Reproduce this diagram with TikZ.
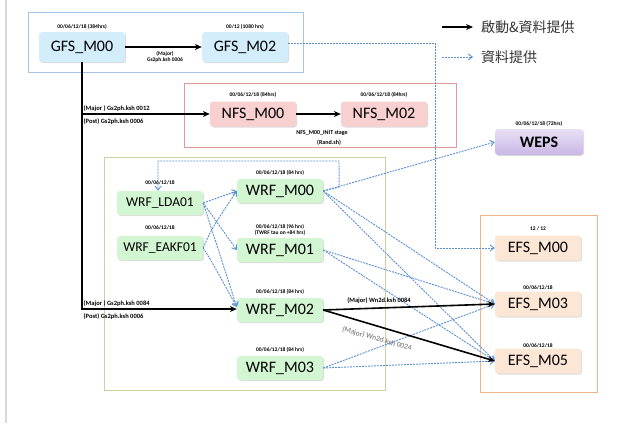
\documentclass[tikz,border=0pt]{standalone}
\usepackage{fontspec}
\setmainfont{Carlito}
\newfontfamily\cjk{Noto Sans CJK TC}
\usetikzlibrary{arrows.meta,shadows,positioning}

\definecolor{gfsfill}{HTML}{D3EDFB}
\definecolor{gfsline}{HTML}{A6C4E6}
\definecolor{nfsfill}{HTML}{F9D0D0}
\definecolor{nfsline}{HTML}{DC9A98}
\definecolor{wrffill}{HTML}{D2F6D2}
\definecolor{wrfline}{HTML}{C4D6A0}
\definecolor{efsfill}{HTML}{FCE6D6}
\definecolor{efsline}{HTML}{F2B68C}
\definecolor{wepsfillA}{HTML}{E8E0F5}
\definecolor{wepsfillB}{HTML}{C9B7E6}
\definecolor{feedblue}{HTML}{5B8FD2}

\begin{document}
\begin{tikzpicture}[x=1pt,y=-1pt,
  model/.style={rounded corners=3pt, minimum width=86pt, minimum height=25pt,
    inner sep=0pt, font=\fontsize{16}{16}\selectfont,
    drop shadow={shadow xshift=1pt, shadow yshift=-1pt, fill=black!30, opacity=0.45}},
  gfs/.style={model, fill=gfsfill, minimum height=30pt},
  nfs/.style={model, fill=nfsfill},
  wrf/.style={model, fill=wrffill, minimum height=24pt},
  wrfnarrow/.style={wrf, font=\fontsize{13.5}{14}\selectfont},
  efs/.style={model, fill=efsfill},
  weps/.style={model, top color=wepsfillA, bottom color=wepsfillB, minimum width=88pt,
    minimum height=26pt, font=\fontsize{16}{16}\selectfont\bfseries},
  datelbl/.style={font=\fontsize{5.5}{6}\selectfont\bfseries, inner sep=0.5pt, align=center},
  note/.style={font=\fontsize{6.5}{7.5}\selectfont\bfseries, inner sep=0.5pt, align=center},
  startline/.style={line width=1.6pt, -{Stealth[length=7pt,width=6pt]}},
  feed/.style={feedblue, line width=0.9pt, dash pattern=on 2pt off 1pt,
    -{Straight Barb[length=4pt,width=6pt]}},
  groupbox/.style={line width=1pt},
  legend/.style={font=\fontsize{14}{14}\cjk, text=black!80, inner sep=0pt}]

\useasboundingbox (0,0) rectangle (617,423);
% page margin rule
\draw[line width=2pt, black!15] (6,0) -- (6,423);

% group frames
\draw[groupbox, gfsline] (28,12) rectangle (303,72);
\draw[groupbox, nfsline] (184,83) rectangle (456,147);
\draw[groupbox, wrfline] (104,157) rectangle (385,390);
\draw[groupbox, efsline] (480,215) rectangle (597,392);

% model runs
\node[gfs] (g0) at (82,47) {GFS\_M00};
\node[gfs] (g2) at (245,47) {GFS\_M02};
\node[nfs] (n0) at (253,114) {NFS\_M00};
\node[nfs] (n2) at (384,114) {NFS\_M02};
\node[weps] (wp) at (539,142) {WEPS};
\node[wrfnarrow] (ld) at (160,203) {WRF\_LDA01};
\node[wrfnarrow] (ek) at (160,248) {WRF\_EAKF01};
\node[wrf] (w0) at (280,191) {WRF\_M00};
\node[wrf] (w1) at (280,250) {WRF\_M01};
\node[wrf] (w2) at (280,310) {WRF\_M02};
\node[wrf] (w3) at (280,368) {WRF\_M03};
\node[efs] (e0) at (538,248) {EFS\_M00};
\node[efs] (e3) at (538,304) {EFS\_M03};
\node[efs] (e5) at (538,361) {EFS\_M05};

% run times
\node[datelbl, above=2pt of g0] (dg0) {00/06/12/18 (384hrs)};
\node[datelbl, above=2pt of g2] (dg2) {00/12 (1080 hrs)};
\node[datelbl, above=3pt of n0] (dn0) {00/06/12/18 (84hrs)};
\node[datelbl, above=3pt of n2] (dn2) {00/06/12/18 (84hrs)};
\node[datelbl, above=2pt of wp] (dwp) {00/06/12/18 (72hrs)};
\node[datelbl, above=5pt of ld] (dld) {00/06/12/18};
\node[datelbl, above=5pt of ek] (dek) {00/06/12/18};
\node[datelbl, above=3pt of w0] (dw0) {00/06/12/18 (84 hrs)};
\node[datelbl, above=2pt of w1] (dw1) {00/06/12/18 (96 hrs)\\(TWRF tau on +84 hrs)};
\node[datelbl, above=3pt of w2] (dw2) {00/06/12/18 (84 hrs)};
\node[datelbl, above=3pt of w3] (dw3) {00/06/12/18 (84 hrs)};
\node[datelbl, above=4pt of e0] (de0) {12 / 12};
\node[datelbl, above=1pt of e3] (de3) {00/06/12/18};
\node[datelbl, above=0pt of e5] (de5) {00/06/12/18};

% legend
\node[legend, anchor=west] (lt1) at (481,27) {啟動\&資料提供};
\node[legend, anchor=west] (lt2) at (481,57) {資料提供};
\coordinate (la1) at (442,27);
\coordinate (la2) at (442,57);
\draw[startline, line width=1.3pt] (la1) -- ([xshift=-8pt]lt1.west);
\draw[feed] (la2) -- ([xshift=-8pt]lt2.west);

% data flow (dashed)
\coordinate (gbend) at (435,43);
\draw[feed] ([yshift=4pt]g2.east) -- (gbend) -- (gbend |- e0.west) -- (e0.west);
\draw[feed] (w0.east) -- (wp.west);
\coordinate (loopR) at (339,161);
\coordinate (loopL) at (158,161);
\draw[feed] (w0.east) -- ++(16,-4) -- (loopR) -- (loopL) -- (loopL |- ld.north);
\draw[feed] (ld.east) -- (w0.west);
\draw[feed] (ld.east) -- (w1.west);
\draw[feed] (ld.east) -- ([yshift=3pt]w2.west);
\draw[feed] (ek.east) .. controls (212,228) .. (w0.west);
\draw[feed] (ek.east) .. controls (212,262) .. ([yshift=3pt]w2.west);
\draw[feed] (w0.east) -- (e3.west);
\draw[feed] (w0.east) -- (e5.west);
\draw[feed] (w1.east) -- (e3.west);
\draw[feed] (w1.east) -- (e5.west);
\draw[feed] (w3.east) -- (e3.west);
\draw[feed] (w3.east) -- (e5.west);

% triggering runs (solid)
\draw[startline] (g0.east) -- (g2.west);
\node[note, font=\fontsize{5.5}{6.5}\selectfont\bfseries] (lgg) at (165,57) {(Major)\\Gs2ph.ksh 0006};
\draw[startline] (n0.east) -- (n2.west);
\node[note, font=\fontsize{6}{9.5}\selectfont\bfseries] (lnn) at (322,138) {NFS\_M00\_INIT stage\\\hspace*{14pt}(Rand.sh)};
\draw[startline] (g0.south) |- ([yshift=1pt]w2.west);
\draw[startline] (g0.south |- n0.west) -- (n0.west);
\node[note, anchor=south west] (lmn) at ([xshift=1pt,yshift=2pt]g0.south |- n0.west) {(Major ) Gs2ph.ksh 0012};
\node[note, anchor=north west] (lpn) at ([xshift=1pt,yshift=-4pt]g0.south |- n0.west) {(Post) Gs2ph.ksh 0006};
\node[note, anchor=south west] (lmw) at ([xshift=1pt,yshift=3pt]g0.south |- w2.west) {(Major ) Gs2ph.ksh 0084};
\node[note, anchor=north west] (lpw) at ([xshift=1pt,yshift=-3pt]g0.south |- w2.west) {(Post) Gs2ph.ksh 0006};
\draw[startline] (w2.east) -- (e3.west);
\node[note] (lw3) at (379,301) {(Major) Wn2d.ksh 0084};
\draw[startline] (w2.east) -- (e5.west);
\node[note, rotate=-16, text=black!60, font=\fontsize{7.5}{8.5}\selectfont] (lw5) at (377,339) {(Major) Wn2d.ksh 0024};
\end{tikzpicture}
\end{document}
